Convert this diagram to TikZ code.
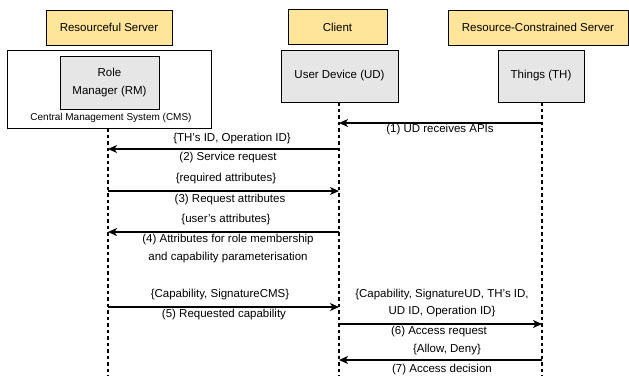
\documentclass[tikz,border=0pt]{standalone}
\usepackage{fontspec}
\setmainfont{Liberation Sans}
\usetikzlibrary{arrows.meta}
\definecolor{hdr}{HTML}{FFE599}
\definecolor{gbox}{HTML}{E6E6E6}
\begin{document}
\begin{tikzpicture}[x=1pt,y=-1pt,
  lbl/.style={font=\fontsize{11.5}{17.5}\selectfont, inner sep=0pt, align=center},
  hdrbox/.style={draw=black, line width=1pt, fill=hdr, inner sep=0pt},
  grbox/.style={draw=black, line width=1pt, fill=gbox, inner sep=0pt},
  frame/.style={draw=black, line width=1pt, fill=white, inner sep=0pt},
  life/.style={line width=1.2pt, dash pattern=on 3.5pt off 3pt},
  msg/.style={line width=1.2pt, -{Stealth[length=9pt,width=8pt,inset=2.5pt]}}]
\useasboundingbox (0,0) rectangle (629,376);
% headers
\node[hdrbox, minimum width=126, minimum height=35] (hrs) at (109,27.5) {};
\node[lbl] at (hrs) {Resourceful Server};
\node[hdrbox, minimum width=99, minimum height=35] (hcl) at (337.5,27) {};
\node[lbl] at (hcl) {Client};
\node[hdrbox, minimum width=180, minimum height=35] (hrc) at (538,27.5) {};
\node[lbl] at (hrc) {Resource-Constrained Server};
% CMS frame
\node[frame, minimum width=204, minimum height=78] (cms) at (109,89) {};
\node[lbl, font=\fontsize{10}{12}\selectfont] (cmst) at (111,117.5) {Central Management System (CMS)};
\node[grbox, minimum width=99, minimum height=53] (rm) at (109.5,82.5) {};
\node[lbl] at (rm) {Role\\Manager (RM)};
\node[grbox, minimum width=117, minimum height=52] (ud) at (339.5,76) {};
\node[lbl] at (ud) {User Device (UD)};
\node[grbox, minimum width=86, minimum height=52] (th) at (541,76) {};
\node[lbl] at (th) {Things (TH)};
% lifelines
\coordinate (rmb) at (108,376);
\coordinate (udb) at (339,376);
\coordinate (thb) at (542,376);
\draw[life] (108,128) -- (rmb);
\draw[life] (339,102) -- (udb);
\draw[life] (542,102) -- (thb);
% message anchor coordinates
\coordinate (t1) at (542,123); \coordinate (u1) at (339,123);
\coordinate (u2) at (339,149); \coordinate (r2) at (108,149);
\coordinate (r3) at (108,191); \coordinate (u3) at (339,191);
\coordinate (u4) at (339,232); \coordinate (r4) at (108,232);
\coordinate (r5) at (108,307); \coordinate (u5) at (339,307);
\coordinate (u6) at (339,324); \coordinate (t6) at (542,324);
\coordinate (t7) at (542,360); \coordinate (u7) at (339,360);
\draw[msg] (t1) -- (u1);
\draw[msg] (u2) -- (r2);
\draw[msg] (r3) -- (u3);
\draw[msg] (u4) -- (r4);
\draw[msg] (r5) -- (u5);
\draw[msg] (u6) -- (t6);
\draw[msg] (t7) -- (u7);
% labels
\node[lbl] (l1) at (440,130) {(1) UD receives APIs};
\node[lbl] (l2a) at (232,139) {\{TH's ID, Operation ID\}};
\node[lbl] (l2b) at (228,158) {(2) Service request};
\node[lbl] (l3a) at (226,179) {\{required attributes\}};
\node[lbl] (l3b) at (230,199.5) {(3) Request attributes};
\node[lbl] (l4a) at (226,220) {\{user's attributes\}};
\node[lbl] (l4b) at (228,248.5) {(4) Attributes for role membership\\and capability parameterisation};
\node[lbl] (l5a) at (220,295) {\{Capability, SignatureCMS\}};
\node[lbl] (l5b) at (224,315) {(5) Requested capability};
\node[lbl] (l6a) at (442,303) {\{Capability, SignatureUD, TH's ID,\\UD ID, Operation ID\}};
\node[lbl] (l6b) at (439,332) {(6) Access request};
\node[lbl] (l7a) at (447,350) {\{Allow, Deny\}};
\node[lbl] (l7b) at (442,370) {(7) Access decision};
\end{tikzpicture}
\end{document}
